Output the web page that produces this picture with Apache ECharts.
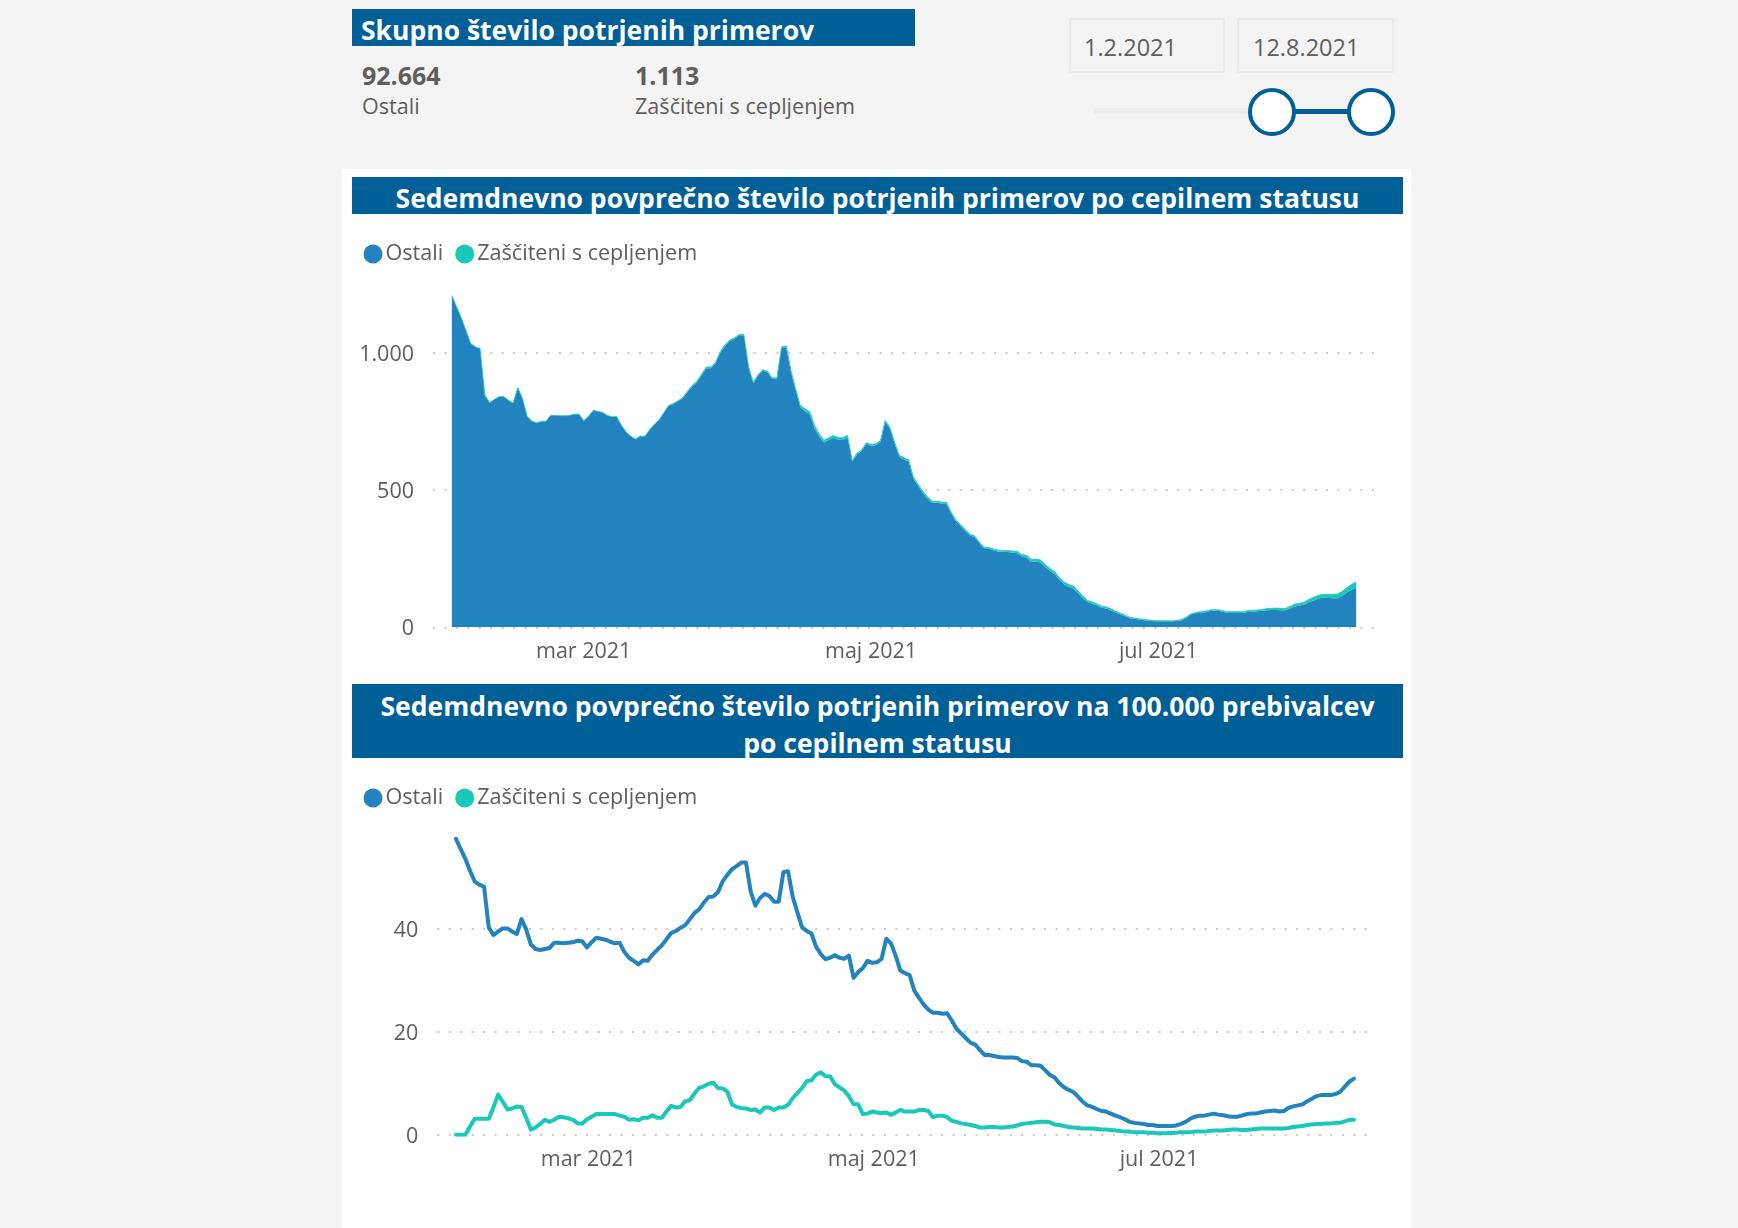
<!DOCTYPE html>
<html lang="sl">
<head>
<meta charset="utf-8">
<title>Potrjeni primeri po cepilnem statusu</title>
<script src="https://cdn.jsdelivr.net/npm/echarts@6/dist/echarts.min.js"></script>
<style>
  html, body { margin: 0; width: 1738px; height: 1228px; overflow: hidden; background: #f4f4f4; }
  body { position: relative; font-family: "Open Sans", sans-serif; color: #605e5c; }
  .abs { position: absolute; white-space: nowrap; }
  .bar { position: absolute; background: #005f96; color: #fff; font-weight: 700; font-size: 26.5px; text-align: center; line-height: 37px; box-sizing: border-box; padding-top: 3px; }
  .panel { position: absolute; left: 342px; top: 169px; width: 1069px; height: 1059px; background: #fff; }
  .date { position: absolute; top: 18px; height: 51px; border: 2px solid #ebebeb; font-size: 23.5px; line-height: 55px; box-sizing: content-box; }
  .knob { position: absolute; top: 88px; width: 40px; height: 40px; border: 4.5px solid #005f96; border-radius: 50%; background: #fff; }
  .chart { position: absolute; left: 342px; width: 1069px; }
</style>
</head>
<body>
<div class="panel"></div>

<div class="bar" style="left:352px;top:9px;width:563px;height:37px;text-align:left;padding-left:9px">Skupno število potrjenih primerov</div>
<div class="abs" style="left:362px;top:58px;font-size:25px;font-weight:700">92.664</div>
<div class="abs" style="left:362px;top:91px;font-size:21.6px">Ostali</div>
<div class="abs" style="left:635px;top:58px;font-size:25px;font-weight:700">1.113</div>
<div class="abs" style="left:635px;top:91px;font-size:21.6px">Zaščiteni s cepljenjem</div>

<div class="date" style="left:1069px;width:139px;padding-left:13px">1.2.2021</div>
<div class="date" style="left:1237px;width:139px;padding-left:14px">12.8.2021</div>
<div class="abs" style="left:1094px;top:108px;width:178px;height:6px;background:#ececec"></div>
<div class="abs" style="left:1272px;top:109px;width:99px;height:5px;background:#005f96"></div>
<div class="knob" style="left:1248px"></div>
<div class="knob" style="left:1347px"></div>

<div class="bar" style="left:352px;top:177px;width:1051px;height:37px">Sedemdnevno povprečno število potrjenih primerov po cepilnem statusu</div>
<div id="c1" class="chart" style="top:214px;height:470px"></div>
<div class="bar" style="left:352px;top:684px;width:1051px;height:74px;padding-top:4px">Sedemdnevno povprečno število potrjenih primerov na 100.000 prebivalcev<br>po cepilnem statusu</div>
<div id="c2" class="chart" style="top:758px;height:470px"></div>

<script>
// dnevne vrednosti od 1.2.2021 do 12.8.2021, odčitane s slike
const OSTALI_SKUPAJ = [
  1208,1168,1127,1081,1033,1021,1015,845,818,829,
  839,840,827,816,872,833,768,750,745,749,
  750,772,771,770,770,771,776,776,752,768,
  789,786,782,771,766,767,735,711,695,685,
  696,695,719,738,755,780,806,813,823,833,
  856,877,892,917,943,943,961,1000,1024,1043,
  1051,1063,1063,946,889,916,934,929,905,903,
  1016,1020,930,862,800,787,775,725,695,673,
  682,690,683,682,692,603,629,642,668,661,
  663,675,748,724,669,621,611,604,541,515,
  489,468,453,454,450,449,415,387,369,351,
  334,329,307,288,287,280,276,275,274,272,
  270,257,254,238,240,236,220,205,193,173,
  156,147,141,123,105,92,86,79,71,68,
  61,53,47,40,33,31,28,26,24,22,
  22,22,22,22,23,26,35,47,51,53,
  55,59,61,59,55,52,52,52,52,56,
  57,58,60,62,63,63,62,62,69,76,
  79,83,92,98,105,108,107,106,106,114,
  127,137,143
];
const ZASCITENI_SKUPAJ = [
  0,0,0,0.1,0.2,0.2,0.2,0.2,0.3,0.5,
  0.4,0.3,0.3,0.4,0.4,0.3,0.1,0.1,0.2,0.3,
  0.3,0.3,0.4,0.4,0.4,0.4,0.3,0.3,0.4,0.5,
  0.6,0.6,0.6,0.7,0.7,0.7,0.7,0.6,0.7,0.7,
  0.8,0.8,1,1,1,1.5,2,2,2,2.5,
  3,3.5,4,4,4.5,5,4.5,4.5,4.5,3.5,
  3.5,3.5,3.5,3.5,3.5,3.5,4,4,4,4.5,
  4.5,5,6,7,8,9,9.5,10,9,8,
  8,8,8,8,7,5,5,4,4,5,
  5,5,5,5,5,6,6,6,6,6,
  7,7,6,5,6,6,5,5,5,5,
  5,4,4,4,4,5,5,5,6,6,
  7,8,8,9,9,9,9,9,9,9,
  9,9,9,9,9,6,6,6,6,6,
  6,5,4,4,3,3,3,3,3,3,
  2,2,2,2,2,3,3,3,3,4,
  4,4,4,4,4,5,5,5,5,5,
  5,5,5,6,6,7,7,7,8,9,
  9,9,10,11,12,12,13,14,15,16,
  17,19,22
];
const OSTALI_100K = [
  57.5,55.5,53.6,51.3,49.2,48.6,48.2,40.3,38.8,39.5,
  40.1,40.1,39.5,39.0,41.9,39.9,37.0,36.1,35.9,36.1,
  36.3,37.3,37.3,37.2,37.3,37.4,37.7,37.6,36.4,37.4,
  38.3,38.1,37.9,37.5,37.2,37.3,35.5,34.4,33.8,33.1,
  33.9,33.8,35.0,35.9,36.8,38.0,39.2,39.6,40.2,40.7,
  41.9,43.1,43.8,45.1,46.2,46.3,47.1,49.2,50.5,51.6,
  52.2,52.9,52.9,47.3,44.5,46.0,46.8,46.4,45.3,45.3,
  51.0,51.2,46.2,43.2,40.3,39.6,39.1,36.5,35.1,34.1,
  34.4,34.9,34.4,34.2,34.8,30.5,31.6,32.4,33.8,33.4,
  33.5,34.2,38.1,37.2,34.8,31.9,31.4,31.0,28.0,26.6,
  25.3,24.3,23.7,23.7,23.5,23.6,22.2,20.6,19.7,18.8,
  17.9,17.5,16.5,15.5,15.5,15.3,15.1,15.0,15.0,15.0,
  14.9,14.3,14.2,13.5,13.5,13.4,12.5,11.6,11.1,10.0,
  9.2,8.7,8.3,7.4,6.4,5.7,5.4,5.0,4.6,4.5,
  4.1,3.7,3.4,3.0,2.5,2.3,2.2,2.1,1.9,1.9,
  1.7,1.7,1.7,1.7,1.8,2.1,2.5,3.1,3.5,3.7,
  3.7,3.9,4.1,3.9,3.8,3.6,3.5,3.5,3.7,4.0,
  4.1,4.1,4.3,4.5,4.6,4.7,4.5,4.6,5.2,5.5,
  5.7,5.9,6.5,7.0,7.5,7.7,7.7,7.7,7.9,8.3,
  9.3,10.3,10.9
];
const ZASCITENI_100K = [
  0,0,0,1.6,3.1,3.1,3.1,3.1,5.3,7.8,
  6.4,4.9,5.1,5.5,5.4,3.3,1.0,1.4,2.1,2.9,
  2.5,2.9,3.5,3.4,3.2,2.9,2.2,2.2,3.0,3.5,
  4.0,4.0,4.0,4.0,4.0,3.7,3.5,2.9,3.0,2.8,
  3.3,3.3,3.8,3.3,3.3,4.5,5.6,5.3,5.4,6.5,
  6.7,8.0,9.1,9.4,9.9,10.1,9.1,9.0,8.4,5.9,
  5.4,5.2,5.1,4.8,4.9,4.3,5.3,5.3,4.8,5.3,
  5.3,5.8,7.1,8.1,9.1,10.4,10.6,11.7,12.1,11.4,
  11.3,9.8,9.2,8.6,7.5,5.9,5.9,4.0,4.1,4.5,
  4.3,4.2,4.3,3.9,4.3,4.8,4.5,4.5,4.5,4.8,
  4.8,4.6,3.4,3.7,3.7,3.4,2.7,2.5,2.2,2.1,
  1.9,1.7,1.4,1.4,1.5,1.5,1.4,1.4,1.5,1.6,
  1.8,2.1,2.2,2.3,2.4,2.5,2.5,2.4,2.0,1.9,
  1.7,1.5,1.4,1.3,1.2,1.2,1.2,1.1,1.0,1.0,
  0.9,0.8,0.7,0.6,0.6,0.5,0.5,0.5,0.4,0.4,
  0.3,0.3,0.3,0.4,0.4,0.5,0.5,0.5,0.6,0.6,
  0.6,0.7,0.8,0.8,0.8,0.9,1.0,1.0,0.9,0.9,
  1.0,1.1,1.2,1.2,1.2,1.2,1.2,1.2,1.3,1.5,
  1.6,1.7,1.9,2.0,2.1,2.1,2.2,2.2,2.3,2.3,
  2.6,2.9,2.9
];
const SERIES_NAMES = ['Ostali', 'Zaščiteni s cepljenjem'];
const X_TICKS = ['2021-03-01', '2021-05-01', '2021-07-01'];
const X_TICK_LABELS = ['mar 2021', 'maj 2021', 'jul 2021'];
const Y_TICKS_SKUPAJ = [0, 500, 1000];
const Y_TICKS_100K = [0, 20, 40];

const BLUE = '#2283bf', TEAL = '#1ac8ba', INK = '#605e5c', DOT = '#c9c9c9';
const FONT = '"Open Sans", sans-serif';
const LEAD_DAYS = 4; // os se začne 4 dni pred prvo vrednostjo

const iso = (d) => d.getFullYear() + '-' + String(d.getMonth() + 1).padStart(2, '0') + '-' + String(d.getDate()).padStart(2, '0');
function dayList(tailDays) {
  const out = [];
  for (let i = -LEAD_DAYS; i < OSTALI_SKUPAJ.length + tailDays; i++) out.push(iso(new Date(2021, 1, 1 + i)));
  return out;
}
const pad = (vals) => new Array(LEAD_DAYS).fill(null).concat(vals);

function baseOption(grid, days, yMax, yTicks, yFmt, xLabelShift) {
  return {
    animation: false,
    color: [BLUE, TEAL],
    textStyle: { fontFamily: FONT },
    legend: {
      left: 16.5, top: 24, itemWidth: 19, itemHeight: 19, itemGap: 12, icon: 'circle',
      textStyle: { color: INK, fontFamily: FONT, fontSize: 21.6, padding: [0, 0, 0, -2] },
      data: SERIES_NAMES,
    },
    grid,
    xAxis: {
      type: 'category', data: days, boundaryGap: false,
      axisLine: { show: false }, axisTick: { show: false }, splitLine: { show: false },
      axisLabel: {
        interval: (i, v) => X_TICKS.includes(v), margin: 14, padding: [0, 0, 0, xLabelShift],
        color: INK, fontFamily: FONT, fontSize: 21.5,
        formatter: (v) => X_TICK_LABELS[X_TICKS.indexOf(v)],
      },
    },
    yAxis: {
      type: 'value', min: 0, max: yMax,
      axisLine: { show: false }, axisTick: { show: false, customValues: yTicks },
      splitLine: { lineStyle: { color: DOT, width: 2, type: [2, 9.45] } },
      axisLabel: {
        customValues: yTicks, margin: 19, color: INK, fontFamily: FONT, fontSize: 21.5,
        formatter: (v) => '{v|' + yFmt(v) + '}',
        rich: { v: { color: INK, fontFamily: FONT, fontSize: 21.5, padding: [4, 0, 0, 0] } },
      },
    },
  };
}

const c1 = echarts.init(document.getElementById('c1'));
c1.setOption(Object.assign(
  baseOption({ left: 91, right: 36, top: 70, height: 343.3 }, dayList(4), 1250, Y_TICKS_SKUPAJ,
    (v) => (v === 1000 ? '1.000' : String(v)), 0),
  { series: [
    { name: SERIES_NAMES[0], type: 'line', stack: 'a', symbol: 'none', data: pad(OSTALI_SKUPAJ),
      lineStyle: { width: 0 }, areaStyle: { color: BLUE, opacity: 1 } },
    { name: SERIES_NAMES[1], type: 'line', stack: 'a', symbol: 'none', data: pad(ZASCITENI_SKUPAJ),
      lineStyle: { width: 0.75, color: TEAL }, areaStyle: { color: TEAL, opacity: 1 } },
  ] }
));

const c2 = echarts.init(document.getElementById('c2'));
c2.setOption(Object.assign(
  baseOption({ left: 95.3, right: 43, top: 68, height: 308.7 }, dayList(3), 60, Y_TICKS_100K,
    (v) => String(v), 3),
  { series: [
    { name: SERIES_NAMES[0], type: 'line', symbol: 'none', data: pad(OSTALI_100K), lineStyle: { width: 4, cap: 'round', join: 'round' } },
    { name: SERIES_NAMES[1], type: 'line', symbol: 'none', data: pad(ZASCITENI_100K), lineStyle: { width: 4, cap: 'round', join: 'round' } },
  ] }
));
</script>
</body>
</html>
